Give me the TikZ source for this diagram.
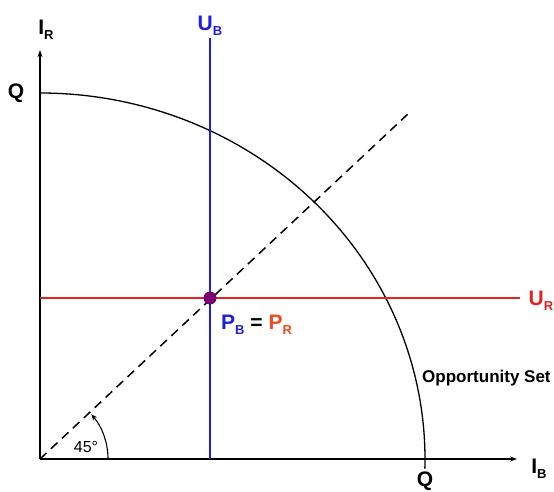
\documentclass[tikz,border=0pt]{standalone}
\usepackage{fontspec}
\setmainfont{Liberation Sans}
\usetikzlibrary{arrows.meta}
\definecolor{ubblue}{RGB}{30,30,220}
\definecolor{urred}{RGB}{225,35,35}
\definecolor{prorange}{RGB}{240,75,30}
\definecolor{dotpurple}{RGB}{120,0,110}
\newcommand{\mysub}[1]{\raisebox{-0.45ex}{\fontsize{13}{13}\selectfont #1}}
\tikzset{
  axis/.style={line width=1.6pt,-{Stealth[length=7pt,width=5pt]}},
  lbl/.style={font=\bfseries\fontsize{21}{23}\selectfont,inner sep=0pt},
}
\begin{document}
\begin{tikzpicture}[x=1pt,y=1pt]
\useasboundingbox (0,0) rectangle (554,491);
\coordinate (O) at (40,32);
\coordinate (ytop) at (40,441);
\coordinate (xend) at (517,32);
\coordinate (Qt) at (40,398);
\coordinate (dend) at (409,378);
\coordinate (ubtop) at (210,453);
\coordinate (ubbot) at (210,32);
\coordinate (urleft) at (40,193);
\coordinate (urright) at (520,193);
\coordinate (arcs) at (108,32);
% axes
\draw[axis] (O) -- (ytop);
\draw[axis] (O) -- (xend);
% opportunity set
\draw[line width=1.3pt] (Qt) arc[start angle=90,end angle=-1.5,x radius=385,y radius=366];
% dashed 45 line
\draw[line width=1.5pt,dash pattern=on 9pt off 6pt] (O) -- (dend);
% U_B and U_R
\draw[ubblue,line width=1.3pt] (ubtop) -- (ubbot);
\draw[urred,line width=1.3pt] (urleft) -- (urright);
% point
\node[circle,fill=dotpurple,minimum size=13pt,inner sep=0pt] (P) at (210,193) {};
% angle arc
\draw[line width=1.1pt,-{Stealth[length=6pt,width=5pt]}] (arcs) arc[start angle=0,end angle=41,radius=68];
% labels
\node[lbl] (IR) at (46,461) {I\mysub{R}};
\node[lbl] (QL) at (16,398) {Q};
\node[lbl] (QB) at (425,10) {Q};
\node[lbl] (IB) at (539,22) {I\mysub{B}};
\node[lbl,text=ubblue] (UB) at (210,465) {U\mysub{B}};
\node[lbl,text=urred] (UR) at (541,190) {U\mysub{R}};
\node[lbl,anchor=west] (PBR) at (221,166) {\textcolor{ubblue}{P\mysub{B}} = \textcolor{prorange}{P\mysub{R}}};
\node[font=\bfseries\fontsize{17}{19}\selectfont,inner sep=0pt,anchor=west] (OS) at (422,113) {Opportunity Set};
\node[font=\fontsize{16}{18}\selectfont,inner sep=0pt] (ang) at (86,44) {45°};
\end{tikzpicture}
\end{document}
